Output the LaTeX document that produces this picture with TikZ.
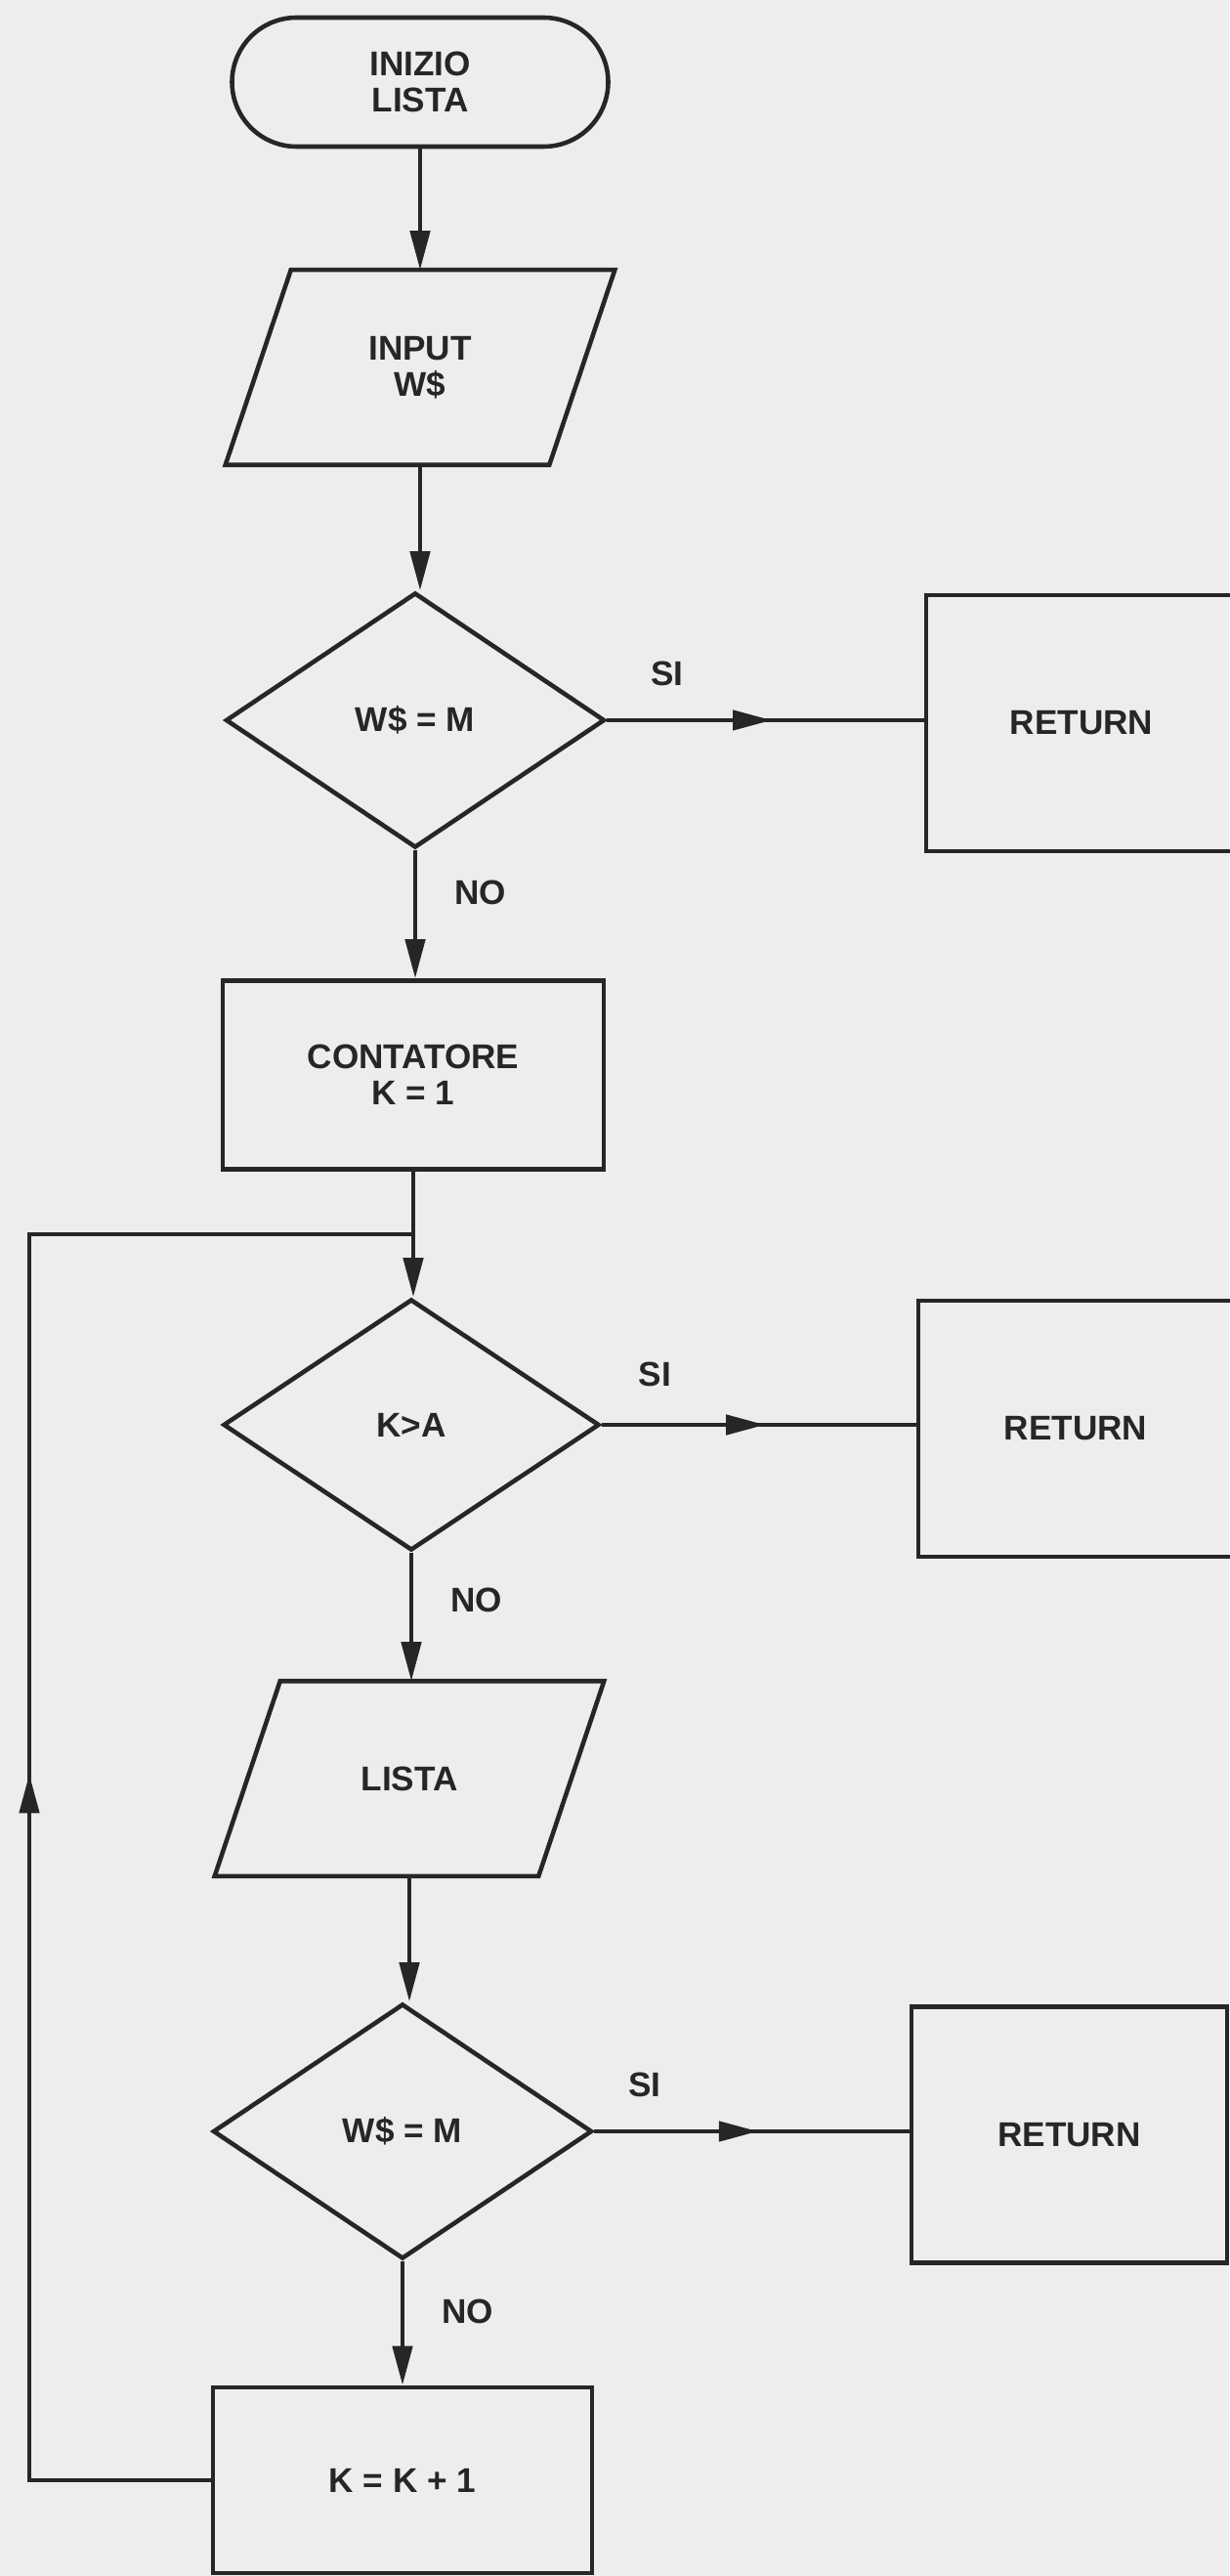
\documentclass[tikz,border=0pt]{standalone}
\usepackage{fontspec}
\setmainfont{Liberation Sans}
\usetikzlibrary{shapes.geometric,shapes.misc,arrows.meta,decorations.markings}

\begin{document}
\begin{tikzpicture}[line width=1.3pt,color=black!85,
  font=\fontsize{10}{10.5}\selectfont\bfseries,
  every node/.style={align=center,inner sep=0pt},
  term/.style={draw,rounded rectangle,minimum width=3.85cm,minimum height=1.32cm},
  io/.style={rectangle,minimum width=3.27cm,minimum height=1.95cm,
    append after command={([xshift=.335cm]\tikzlastnode.north west) -- ([xshift=.335cm]\tikzlastnode.north east)
      -- ([xshift=-.335cm]\tikzlastnode.south east) -- ([xshift=-.335cm]\tikzlastnode.south west) -- cycle}},
  test/.style={draw,diamond,minimum width=3.88cm,minimum height=2.61cm},
  box/.style={draw,rectangle,minimum width=3.9cm,minimum height=1.93cm},
  ret/.style={draw,rectangle,minimum height=2.62cm},
  arr/.style={-{Triangle[length=.4cm,width=.2cm]}},
  midarr/.style={postaction={decorate},decoration={markings,mark=at position #1 with {\arrow{Triangle[length=.4cm,width=.2cm]}}}}]
\fill[black!7] (0,0) rectangle (12.58,-26.36); \useasboundingbox (0,0) rectangle (12.58,-26.36);
\node[term] (start) at (4.30,-0.84) {INIZIO\\LISTA};
\draw (4.30,-3.76) node[io] (inp) {INPUT\\W\$};
\node[test] (t1) at (4.25,-7.37) {W\$ = M};
\node[ret,minimum width=3.18cm] (r1) at (11.07,-7.40) {RETURN};
\node[box] (cont) at (4.23,-11.00) {CONTATORE\\K = 1};
\node[test,minimum width=3.85cm,minimum height=2.57cm] (t2) at (4.21,-14.58) {K>A};
\node[ret,minimum width=3.22cm] (r2) at (11.01,-14.62) {RETURN};
\draw (4.19,-18.20) node[io] (lista) {LISTA};
\node[test] (t3) at (4.12,-21.81) {W\$ = M};
\node[ret,minimum width=3.23cm] (r3) at (10.945,-21.845) {RETURN};
\node[box,minimum width=3.88cm,minimum height=1.90cm] (inc) at (4.12,-25.38) {K = K + 1};
% main column
\draw[arr] (start.south) -- (start.south |- inp.north); \draw[arr] (inp.south) -- (inp.south |- t1.north);
\draw[arr] (t1.south) -- node[pos=.33,right=.38cm]{NO} (t1.south |- cont.north);
\draw[arr] (cont.south) -- (cont.south |- t2.north);
\draw[arr] (t2.south) -- node[pos=.37,right=.38cm]{NO} (t2.south |- lista.north);
\draw[arr] (lista.south) -- (lista.south |- t3.north);
\draw[arr] (t3.south) -- node[pos=.41,right=.38cm]{NO} (t3.south |- inc.north);
% SI branches
\draw[midarr=.52] (t1.east) -- node[pos=.19,above=.33cm]{SI} (t1.east -| r1.west);
\draw[midarr=.52] (t2.east) -- node[pos=.17,above=.37cm]{SI} (t2.east -| r2.west);
\draw[midarr=.52] (t3.east) -- node[pos=.16,above=.33cm]{SI} (t3.east -| r3.west);
% loop back
\coordinate (j) at (cont.south |- 0,-12.63); \coordinate (back) at (0.30,-12.63);
\draw[midarr=.49] (inc.west) -| (back) -- (j);
\end{tikzpicture}
\end{document}
